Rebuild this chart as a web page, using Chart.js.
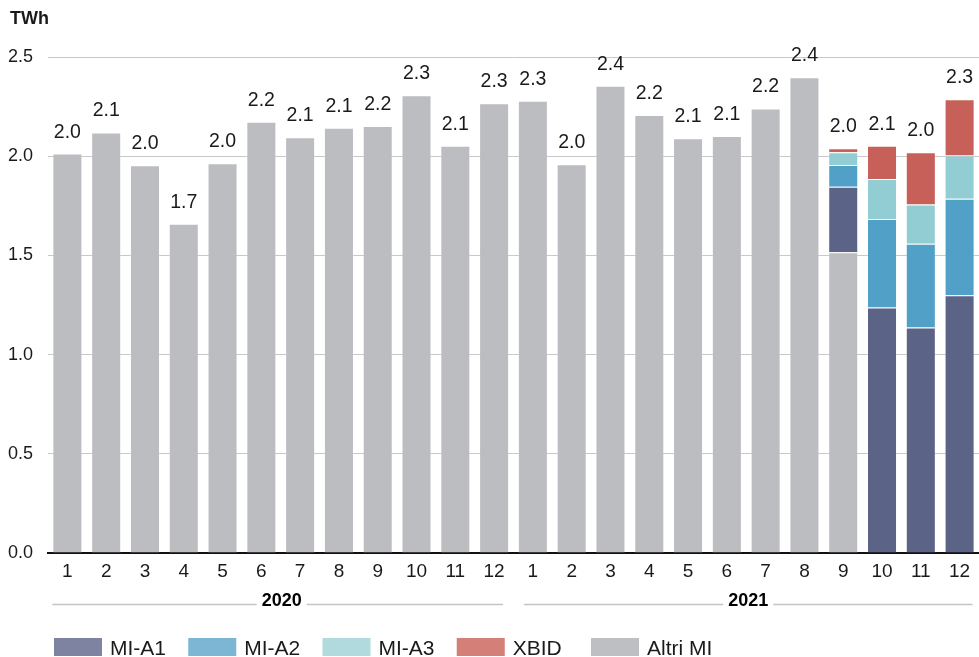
<!DOCTYPE html>
<html>
<head>
<meta charset="utf-8">
<script src="https://cdn.jsdelivr.net/npm/chart.js@4"></script>
<style>
  html, body { margin: 0; padding: 0; background: #ffffff; }
  #wrap { width: 979px; height: 657px; }
</style>
</head>
<body>
<div id="wrap"><canvas id="c" width="979" height="657"></canvas></div>
<script>
// ---- data ----
const months = ['1','2','3','4','5','6','7','8','9','10','11','12','1','2','3','4','5','6','7','8','9','10','11','12'];
const years = ['2020', '2021'];
const monthsPerYear = 12;
const unitLabel = 'TWh';

const altriMI = [2.013, 2.120, 1.954, 1.660, 1.964, 2.174, 2.095, 2.144, 2.152, 2.307, 2.053, 2.267,
                 2.280, 1.959, 2.355, 2.208, 2.090, 2.102, 2.241, 2.398, 1.516, null, null, null];
const miA1 = [null, null, null, null, null, null, null, null, null, null, null, null,
              null, null, null, null, null, null, null, null, 0.330, 1.238, 1.136, 1.299];
const miA2 = [null, null, null, null, null, null, null, null, null, null, null, null,
              null, null, null, null, null, null, null, null, 0.110, 0.445, 0.423, 0.487];
const miA3 = [null, null, null, null, null, null, null, null, null, null, null, null,
              null, null, null, null, null, null, null, null, 0.064, 0.202, 0.198, 0.217];
const xbid = [null, null, null, null, null, null, null, null, null, null, null, null,
              null, null, null, null, null, null, null, null, 0.020, 0.168, 0.263, 0.284];

const yTicks = [0, 0.5, 1.0, 1.5, 2.0, 2.5];

// ---- styles ----
const FONT = "'Liberation Sans', Arial, Helvetica, sans-serif";
const TEXT = '#1a1a1a';
const series = [
  { label: 'Altri MI', data: altriMI, color: '#bcbdc1', legend: '#bebfc3' },
  { label: 'MI-A1',    data: miA1,    color: '#5b6387', legend: '#7d83a0' },
  { label: 'MI-A2',    data: miA2,    color: '#50a0c7', legend: '#7db6d4' },
  { label: 'MI-A3',    data: miA3,    color: '#93cdd4', legend: '#b0dade' },
  { label: 'XBID',     data: xbid,    color: '#c8605a', legend: '#d47f78' }
];
const legendOrder = ['MI-A1', 'MI-A2', 'MI-A3', 'XBID', 'Altri MI'];

const totals = months.map((_, i) => series.reduce((s, d) => s + (d.data[i] || 0), 0));

const extrasPlugin = {
  id: 'extras',
  afterDatasetsDraw(chart) {
    const ctx = chart.ctx;
    const x = chart.scales.x, y = chart.scales.y;
    ctx.save();
    ctx.fillStyle = TEXT;
    ctx.font = '19.5px ' + FONT;
    ctx.textAlign = 'center';
    ctx.textBaseline = 'alphabetic';
    totals.forEach((t, i) => {
      ctx.fillText(t.toFixed(1), x.getPixelForValue(i), y.getPixelForValue(t) - 16);
    });
    ctx.restore();
  },
  afterDraw(chart) {
    const ctx = chart.ctx;
    const x = chart.scales.x;
    ctx.save();
    ctx.fillStyle = TEXT;
    ctx.font = 'bold 18px ' + FONT;
    ctx.textAlign = 'left';
    ctx.textBaseline = 'alphabetic';
    ctx.fillText(unitLabel, 10, 23.5);

    const lineY = 604.5;
    years.forEach((yr, g) => {
      const first = g * monthsPerYear, last = first + monthsPerYear - 1;
      const x0 = x.getPixelForValue(first) - (g === 0 ? 15 : 9);
      const x1 = x.getPixelForValue(last) + (g === 0 ? 9 : 13);
      const cx = (x0 + x1) / 2 + (g === 0 ? 4 : 0);
      ctx.font = 'bold 18px ' + FONT;
      const w = ctx.measureText(yr).width;
      ctx.strokeStyle = '#c4c4c4';
      ctx.lineWidth = 1.5;
      ctx.beginPath();
      ctx.moveTo(x0, lineY); ctx.lineTo(cx - w / 2 - 5, lineY);
      ctx.moveTo(cx + w / 2 + 5, lineY); ctx.lineTo(x1, lineY);
      ctx.stroke();
      ctx.fillStyle = '#000';
      ctx.textAlign = 'center';
      ctx.textBaseline = 'middle';
      ctx.fillText(yr, cx, 601);
    });

    ctx.font = '21px ' + FONT;
    ctx.textAlign = 'left';
    ctx.textBaseline = 'alphabetic';
    legendOrder.forEach((name, k) => {
      const s = series.find(d => d.label === name);
      const lx = 54 + k * 134.25;
      ctx.fillStyle = s.legend;
      ctx.fillRect(lx, 638, 48, 18);
      ctx.fillStyle = TEXT;
      ctx.fillText(name, lx + 56, 655);
    });
    ctx.restore();
  }
};

new Chart(document.getElementById('c'), {
  type: 'bar',
  data: {
    labels: months,
    datasets: series.map(s => ({
      label: s.label,
      data: s.data,
      backgroundColor: s.color,
      borderColor: 'rgba(255,255,255,0.2)',
      borderWidth: 1,
      borderSkipped: 'start',
      barPercentage: 0.774,
      categoryPercentage: 1.0,
      stack: 'tot'
    }))
  },
  options: {
    responsive: false,
    animation: false,
    devicePixelRatio: 1,
    layout: { padding: { top: 57, left: 0, right: 0, bottom: 0 } },
    plugins: {
      legend: { display: false },
      tooltip: { enabled: false },
      title: { display: false }
    },
    scales: {
      x: {
        stacked: true,
        grid: { display: false, drawTicks: false },
        border: { display: true, color: '#111', width: 2 },
        ticks: { color: TEXT, font: { family: FONT, size: 19 }, padding: 7, maxRotation: 0, autoSkip: false },
        afterFit(scale) { scale.height = 104; }
      },
      y: {
        stacked: true,
        min: 0, max: 2.5,
        afterBuildTicks(scale) { scale.ticks = yTicks.map(v => ({ value: v })); },
        grid: { color: '#c8c8c8', lineWidth: 1, drawTicks: false },
        border: { display: false },
        ticks: {
          color: TEXT, font: { family: FONT, size: 18 }, padding: 15,
          callback: v => Number(v).toFixed(1)
        },
        afterFit(scale) { scale.width = 48; }
      }
    }
  },
  plugins: [extrasPlugin]
});
</script>
</body>
</html>
